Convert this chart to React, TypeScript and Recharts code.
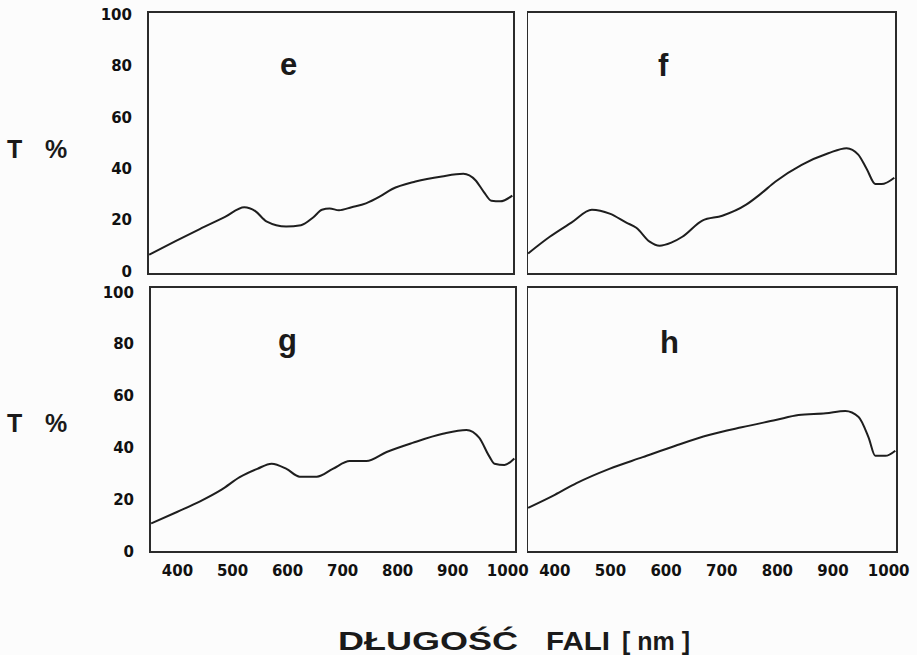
import { LineChart, Line, XAxis, YAxis, ReferenceArea } from "recharts";

// wavelength (nm) / transmission (%)
const eWave = [352, 400, 444, 490, 525, 545, 565, 601, 628, 650, 666, 680, 697, 720, 746, 770, 793, 836, 884, 923, 945, 960, 974, 990, 1012];
const eT = [6.5, 11.8, 16.5, 21.2, 25, 23.5, 19.5, 17.5, 18, 21, 24, 24.5, 23.8, 25, 26.5, 29, 32, 35, 37, 38, 35.5, 31, 27.5, 27.3, 29.5];

const fWave = [352, 391, 430, 467, 499, 529, 547, 571, 589, 610, 630, 666, 702, 745, 770, 798, 845, 893, 926, 947, 962, 978, 989, 1012];
const fT = [7, 13.5, 19, 24, 22.5, 19, 17, 11.6, 10, 11.2, 13.5, 19.8, 21.7, 26, 30, 35, 41.5, 46, 48, 45.5, 40, 34, 34, 36.5];

const gWave = [352, 400, 441, 480, 513, 545, 571, 598, 622, 653, 682, 713, 743, 780, 827, 882, 925, 948, 967, 976, 994, 1012];
const gT = [11, 15.5, 19.5, 24, 28.8, 32, 34, 32, 29, 29, 32, 35, 35, 38.5, 42, 45.5, 47, 44, 36.6, 34, 33.5, 36];

const hWave = [352, 400, 439, 498, 558, 618, 677, 736, 797, 838, 887, 922, 946, 964, 976, 994, 1012];
const hT = [17, 22, 26.5, 32, 36.5, 41, 45, 48, 50.8, 52.7, 53.4, 54.3, 52, 44, 37, 37, 39];

const xTicks = [400, 500, 600, 700, 800, 900, 1000];
const yTicks = [0, 20, 40, 60, 80, 100];
const X_DOMAIN: [number, number] = [350, 1015];

const toRows = (w: number[], t: number[]) => w.map((nm, i) => ({ nm, t: t[i] }));

type PanelProps = {
  wave: number[];
  vals: number[];
  left: number;
  right: number;
  top: number;
  bottom: number;
  yDomain: [number, number];
  showX: boolean;
  showY: boolean;
};

function Panel({ wave, vals, left, right, top, bottom, yDomain, showX, showY }: PanelProps) {
  const yW = showY ? 60 : 0;
  const xH = showX ? 34 : 0;
  const mt = 8;
  const mr = 24;
  const w = right - left + yW + mr;
  const h = bottom - top + mt + xH + 6;
  const tickStyle = { fill: "#111", fontSize: 15, fontWeight: 700, fontFamily: "DejaVu Sans" };
  return (
    <div style={{ position: "absolute", left: left - yW, top: top - mt }}>
      <LineChart width={w} height={h} data={toRows(wave, vals)} margin={{ top: mt, right: mr, left: 0, bottom: 6 }}>
        <XAxis
          type="number"
          dataKey="nm"
          domain={X_DOMAIN}
          ticks={xTicks}
          interval={0}
          allowDataOverflow
          axisLine={false}
          tickLine={false}
          tickSize={0}
          tickMargin={13}
          height={xH}
          tick={showX ? tickStyle : false}
        />
        <YAxis
          type="number"
          domain={yDomain}
          ticks={yTicks}
          interval={0}
          allowDataOverflow
          axisLine={false}
          tickLine={false}
          tickSize={0}
          tickMargin={16}
          width={yW}
          tick={showY ? tickStyle : false}
        />
        <ReferenceArea
          x1={X_DOMAIN[0]}
          x2={X_DOMAIN[1]}
          y1={yDomain[0]}
          y2={yDomain[1]}
          fill="none"
          stroke="#2b2b2b"
          strokeWidth={2}
          ifOverflow="visible"
        />
        <Line
          type="monotone"
          dataKey="t"
          stroke="#1e1e1e"
          strokeWidth={2}
          dot={false}
          isAnimationActive={false}
        />
      </LineChart>
    </div>
  );
}

export default function App() {
  const top: [number, number] = [-1, 101];
  const low: [number, number] = [0, 102];
  const letter = { fontFamily: "Liberation Sans, Arial, sans-serif", fontWeight: 700, fontSize: 31, fill: "#1a1a1a" };
  const big = { fontFamily: "Liberation Sans, Arial, sans-serif", fontWeight: 700, fontSize: 25, fill: "#1a1a1a" };
  return (
    <div style={{ position: "absolute", left: 0, top: 0, width: 917, height: 655, background: "#fcfcfc", overflow: "hidden" }}>
      <Panel wave={eWave} vals={eT} left={148} right={514} top={12} bottom={274} yDomain={top} showX={false} showY />
      <Panel wave={fWave} vals={fT} left={527} right={896} top={12} bottom={274} yDomain={top} showX={false} showY={false} />
      <Panel wave={gWave} vals={gT} left={150} right={516} top={287} bottom={552} yDomain={low} showX showY />
      <Panel wave={hWave} vals={hT} left={527} right={897} top={287} bottom={552} yDomain={low} showX showY={false} />
      <svg width={917} height={655} style={{ position: "absolute", left: 0, top: 0, pointerEvents: "none" }}>
        <text x={280} y={75} style={letter}>e</text>
        <text x={658} y={76} style={letter}>f</text>
        <text x={278} y={351} style={letter}>g</text>
        <text x={660} y={353} style={letter}>h</text>
        <text x={7} y={158} style={big}>
          <tspan>T</tspan>
          <tspan x={45}>%</tspan>
        </text>
        <text x={7} y={432} style={big}>
          <tspan>T</tspan>
          <tspan x={45}>%</tspan>
        </text>
        <text y={650} style={big}>
          <tspan x={338} textLength={180} lengthAdjust="spacingAndGlyphs">DŁUGOŚĆ</tspan>
          <tspan x={546} textLength={64} lengthAdjust="spacingAndGlyphs">FALI</tspan>
          <tspan x={622} textLength={68} lengthAdjust="spacingAndGlyphs">[ nm ]</tspan>
        </text>
      </svg>
    </div>
  );
}
